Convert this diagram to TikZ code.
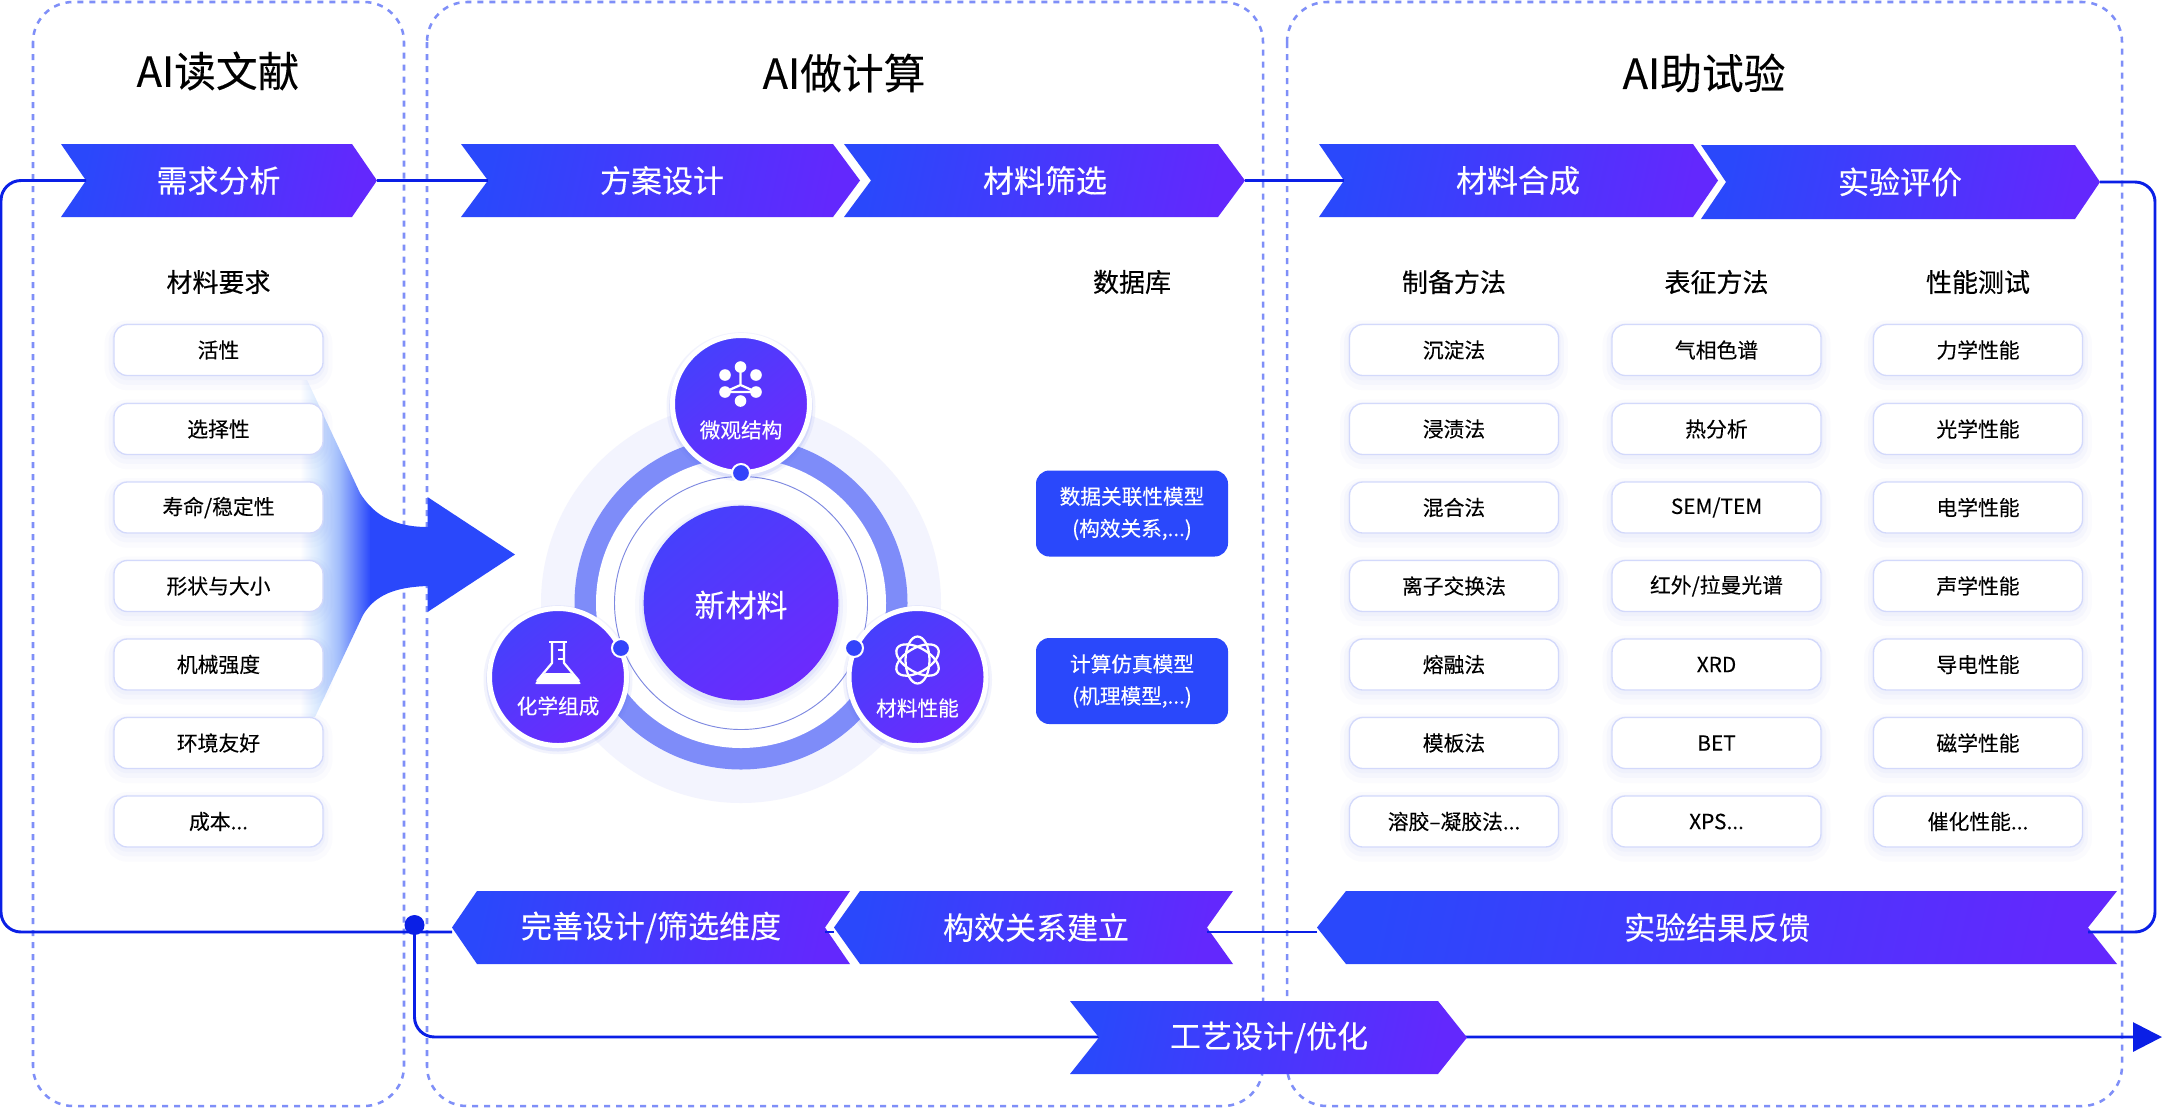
\documentclass[tikz,border=0pt]{standalone}
\usepackage{fontspec}
\setmainfont{Noto Sans CJK SC}
\newfontfamily\cjkb[FakeBold=0.3]{Noto Sans CJK SC}
\newfontfamily\cjkm[FakeBold=0.2]{Noto Sans CJK SC}
\newfontfamily\cjks[FakeBold=0.12]{Noto Sans CJK SC}
\usetikzlibrary{arrows.meta,calc}
\definecolor{dashc}{HTML}{7F8FF8}
\definecolor{linec}{HTML}{0A1FE6}
\definecolor{bluec}{HTML}{2A48FB}
\definecolor{purpc}{HTML}{6328FD}
\definecolor{disca}{HTML}{4640FC}
\definecolor{discb}{HTML}{6C2AFD}
\definecolor{ringc}{HTML}{7E8CF9}
\definecolor{paleo}{HTML}{F3F4FE}
\definecolor{boxe}{HTML}{D3D9FB}
\definecolor{shad}{HTML}{5A70F0}
\definecolor{fadea}{HTML}{D3E5FE}
\definecolor{fadeb}{HTML}{9DB9FB}
\tikzset{
  panel/.style={draw=dashc,line width=1.9pt,dash pattern=on 4.5pt off 4.5pt,rounded corners=30pt},
  chev/.style={top color=bluec,bottom color=purpc,shading angle=78},
  chevt/.style={text=white,font=\cjkm\fontsize{23.25pt}{28pt}\selectfont,inner sep=0pt},
  conn/.style={draw=linec,line width=2.2pt},
  head/.style={font=\cjkb\fontsize{19.5pt}{24pt}\selectfont,inner sep=0pt},
  ttl/.style={font=\cjkm\fontsize{31.3pt}{36pt}\selectfont,inner sep=0pt},
  itembox/.style={draw=boxe,line width=1pt,fill=white,rounded corners=10pt,minimum width=156.75pt,minimum height=38.25pt,inner sep=0pt,
    font=\cjks\fontsize{15.6pt}{19pt}\selectfont,
    preaction={draw=shad,draw opacity=.025,line width=14pt,transform canvas={yshift=-4pt}},
    preaction={draw=shad,draw opacity=.03,line width=8pt,transform canvas={yshift=-3pt}},
    preaction={draw=shad,draw opacity=.035,line width=3pt,transform canvas={yshift=-2pt}}},
  modelbox/.style={fill=bluec,rounded corners=10pt,minimum width=144pt,minimum height=64.5pt,inner sep=0pt,text=white,align=center,
    font=\cjkm\fontsize{15.5pt}{24pt}\selectfont},
  disc/.style={circle,draw=white,line width=3.75pt,top color=disca,bottom color=discb,shading angle=40,minimum size=102.75pt,inner sep=0pt,
    preaction={draw=shad,draw opacity=.08,line width=9pt,transform canvas={yshift=-2pt}},
    preaction={draw=shad,draw opacity=.12,line width=5pt,transform canvas={yshift=-2pt}}},
  disct/.style={text=white,font=\cjkm\fontsize{15.5pt}{19pt}\selectfont,inner sep=0pt},
  pin/.style={circle,fill=bluec!85!purpc,draw=white,line width=1.5pt,minimum size=13.5pt,inner sep=0pt},
  icon/.style={draw=white,line width=1.7pt,line join=round},
}
% name, left x, depth, right x, top y, bottom y, text x, text
\newcommand\chevR[8]{%
  \shade[chev] (#2,#5) -- ({#4-#3},#5) -- (#4,{(#5+#6)/2}) -- ({#4-#3},#6) -- (#2,#6) -- ({#2+#3},{(#5+#6)/2}) -- cycle;
  \coordinate (#1-tip) at (#4,{(#5+#6)/2});
  \coordinate (#1-notch) at ({#2+#3},{(#5+#6)/2});
  \node[chevt] (#1) at (#7,{(#5+#6)/2}) {#8};}
\newcommand\chevL[8]{%
  \shade[chev] ({#2+#3},#5) -- (#4,#5) -- ({#4-#3},{(#5+#6)/2}) -- (#4,#6) -- ({#2+#3},#6) -- (#2,{(#5+#6)/2}) -- cycle;
  \coordinate (#1-tip) at (#2,{(#5+#6)/2});
  \coordinate (#1-notch) at ({#4-#3},{(#5+#6)/2});
  \node[chevt] (#1) at (#7,{(#5+#6)/2}) {#8};}
\begin{document}
\begin{tikzpicture}[x=0.75pt,y=-0.75pt]
\useasboundingbox (0,0) rectangle (2162,1108);
\fill[white] (0,0) rectangle (2162,1108);
% panels
\draw[panel] (33,2) rectangle (404,1106);
\draw[panel] (427,2) rectangle (1263,1106);
\draw[panel] (1287,2) rectangle (2122,1106);
\node[ttl] (t1) at (218,71) {AI读文献};
\node[ttl] (t2) at (844,73) {AI做计算};
\node[ttl] (t3) at (1704,73) {AI助试验};
% big arrow
\begin{scope}
\clip (307,380) -- (360,493) .. controls (372,512) and (390,527) .. (428,527) -- (428,586)
  .. controls (395,587) and (375,595) .. (363,615) -- (315,717) -- (300,717) -- (300,380) -- cycle;
\shade[left color=white,right color=fadea] (300,370) rectangle (320.5,720);
\shade[left color=fadea,right color=fadeb] (320,370) rectangle (340.5,720);
\shade[left color=fadeb,right color=bluec] (340,370) rectangle (370.5,720);
\fill[bluec] (370,370) rectangle (428,720);
\end{scope}
\fill[bluec] (427.5,497) -- (515,554.5) -- (427.5,612) -- cycle;
% circle diagram
\fill[paleo] (741,603) circle[radius=200];
\fill[ringc] (741,603) circle[radius=166.5];
\fill[white] (741,603) circle[radius=145];
\draw[ringc!80!gray,line width=.7pt] (741,603) circle[radius=126.5];
\foreach \r/\o in {106/.04,102/.06,99/.08}{\fill[shad,fill opacity=\o] (741,606) circle[radius=\r];}
\node[circle,top color=disca,bottom color=discb,shading angle=40,minimum size=146pt,inner sep=0pt] (new) at (741,603) {};
\node[text=white,font=\cjkm\fontsize{23.25pt}{28pt}\selectfont,inner sep=0pt] (newt) at (741,605) {新材料};
\node[disc] (micro) at (741,404) {};
\node[disc] (chem) at (558,677) {};
\node[disc] (prop) at (917.5,677) {};
\node[disct] (microt) at (741,430) {微观结构};
\node[disct] (chemt) at (558,706) {化学组成};
\node[disct] (propt) at (917.5,708) {材料性能};
\node[pin] (p1) at (741,473) {};
\node[pin] (p2) at (621,648) {};
\node[pin] (p3) at (854,648) {};
% molecule icon
\foreach \n/\cx/\cy in {ma/740.5/367,mb/725/375,mc/756/375,md/725/392,me/756/392,mf/740.5/401}{
  \fill[white] (\cx,\cy) circle[radius=5.8];
  \coordinate (\n) at (\cx,\cy);}
\draw[icon] (ma) -- (740.5,385) -- (727,391) -- (md) -- (me) -- (754,391) -- (740.5,385);
% flask icon
\draw[icon] (549,642) -- (567,642);
\draw[icon] (552,642) -- (552,663) -- (537,681);
\draw[icon] (564,642) -- (564,663) -- (579,681);
\draw[icon] (558,650) -- (564,650);
\draw[icon] (558,659) -- (564,659);
\fill[white,rounded corners=1.5pt] (544,673) -- (572,673) -- (581.5,684) -- (534.5,684) -- cycle;
% atom icon
\foreach \a in {90,30,150}{
  \draw[icon,rotate around={\a:(917.5,660)}] (917.5,660) ellipse[x radius=23.5,y radius=12];}
% model boxes and headers
\node[modelbox] (mod1) at (1132,513.5) {数据关联性模型\\(构效关系,...)};
\node[modelbox] (mod2) at (1132,681) {计算仿真模型\\(机理模型,...)};
\node[head] (hd0) at (218.5,282) {材料要求};
\node[head] (hd1) at (1132,282) {数据库};
\node[head] (hd2) at (1454,282) {制备方法};
\node[head] (hd3) at (1716.5,282) {表征方法};
\node[head] (hd4) at (1978,282) {性能测试};
% item boxes
\node[itembox] (a1) at (218.5,350) {活性};
\node[itembox] (a2) at (218.5,429) {选择性};
\node[itembox] (a3) at (218.5,507.5) {寿命/稳定性};
\node[itembox] (a4) at (218.5,586) {形状与大小};
\node[itembox] (a5) at (218.5,664.5) {机械强度};
\node[itembox] (a6) at (218.5,743) {环境友好};
\node[itembox] (a7) at (218.5,821.5) {成本...};
\node[itembox] (b1) at (1454,350) {沉淀法};
\node[itembox] (b2) at (1454,429) {浸渍法};
\node[itembox] (b3) at (1454,507.5) {混合法};
\node[itembox] (b4) at (1454,586) {离子交换法};
\node[itembox] (b5) at (1454,664.5) {熔融法};
\node[itembox] (b6) at (1454,743) {模板法};
\node[itembox] (b7) at (1454,821.5) {溶胶–凝胶法...};
\node[itembox] (c1) at (1716.5,350) {气相色谱};
\node[itembox] (c2) at (1716.5,429) {热分析};
\node[itembox] (c3) at (1716.5,507.5) {SEM/TEM};
\node[itembox] (c4) at (1716.5,586) {红外/拉曼光谱};
\node[itembox] (c5) at (1716.5,664.5) {XRD};
\node[itembox] (c6) at (1716.5,743) {BET};
\node[itembox] (c7) at (1716.5,821.5) {XPS...};
\node[itembox] (d1) at (1978,350) {力学性能};
\node[itembox] (d2) at (1978,429) {光学性能};
\node[itembox] (d3) at (1978,507.5) {电学性能};
\node[itembox] (d4) at (1978,586) {声学性能};
\node[itembox] (d5) at (1978,664.5) {导电性能};
\node[itembox] (d6) at (1978,743) {磁学性能};
\node[itembox] (d7) at (1978,821.5) {催化性能...};
% connector anchors
\coordinate (need-notch) at (86,180.5);
\coordinate (lowY) at (0,932);
\coordinate (dotc) at (414.5,932);
\coordinate (leftX) at (1,932);
\coordinate (rightX) at (2155,932);
\coordinate (arrowend) at (2162,1037);
\node[inner sep=0pt] (dot) at (414.5,925) {};
\draw[conn,rounded corners=15pt,-{Triangle[length=21.75pt,width=21.75pt]}] (dotc) |- (arrowend);
% chevrons
\chevR{need}{61}{25}{377}{144}{217}{218.5}{需求分析}
\chevR{plan}{461}{27}{860}{144}{217}{662}{方案设计}
\chevR{screen}{844}{27}{1245}{144}{217}{1045}{材料筛选}
\chevR{synth}{1319}{25}{1718}{144}{217}{1518}{材料合成}
\chevR{evalu}{1701}{25}{2100}{145}{219}{1900}{实验评价}
\chevL{refine}{452}{25}{850}{891}{964}{651}{完善设计/筛选维度}
\chevL{build}{834}{26}{1233}{891}{964}{1036}{构效关系建立}
\chevL{result}{1317}{29}{2117}{891}{964}{1717}{实验结果反馈}
\chevR{craft}{1070}{29}{1467}{1001}{1074}{1269}{工艺设计/优化}
% connectors
\draw[conn] (need-tip) -- (plan-notch);
\draw[conn] (screen-tip) -- (synth-notch);
\draw[conn,rounded corners=15pt] (evalu-tip) -| (rightX) -- (result-notch |- lowY);
\draw[conn] (result-tip |- lowY) -- (build-notch |- lowY);
\draw[conn] (build-tip |- lowY) -- (refine-notch |- lowY);
\draw[conn,rounded corners=15pt] (refine-tip |- lowY) -- (leftX) |- (need-notch);
\fill[linec] (dot) circle[radius=10];
\end{tikzpicture}
\end{document}
